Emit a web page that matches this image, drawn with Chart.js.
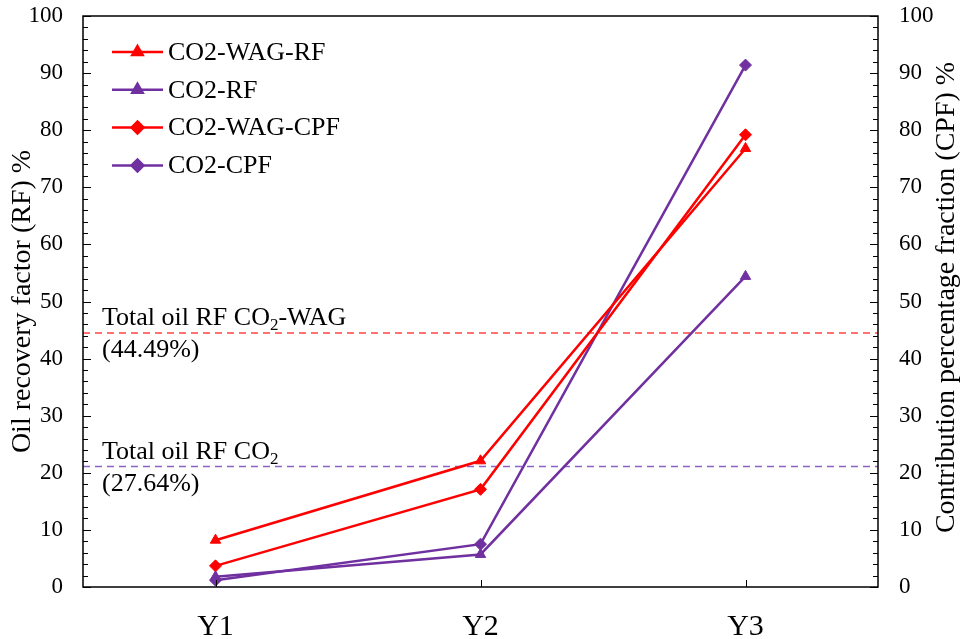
<!DOCTYPE html>
<html>
<head>
<meta charset="utf-8">
<script src="https://cdn.jsdelivr.net/npm/chart.js@4.4.1/dist/chart.umd.min.js"></script>
<style>
  html, body { margin: 0; padding: 0; background: #ffffff; }
  #wrap { width: 964px; height: 639px; }
  canvas { display: block; }
</style>
</head>
<body>
<div id="wrap"><canvas id="chart" width="964" height="639"></canvas></div>
<script>
// Categories and series values
const years = ['Y1', 'Y2', 'Y3'];
const co2WagRf = [8.2, 22.1, 76.8];
const co2Rf = [1.8, 5.7, 54.4];
const co2WagCpf = [3.7, 17.1, 79.2];
const co2Cpf = [1.2, 7.5, 91.4];

// Reference lines (total oil recovery) and their captions
const refValues = [44.49, 21.1];
const refCaptions = [
  ['Total oil RF CO', '2', '-WAG', '(44.49%)'],
  ['Total oil RF CO', '2', '', '(27.64%)']
];

const leftTitle = 'Oil recovery factor (RF) %';
const rightTitle = 'Contribution percentage fraction (CPF) %';

const SERIF = "'Liberation Serif', 'Times New Roman', serif";
const RED = '#ff0000';
const PURPLE = '#7030a0';
const refColors = ['#ff4545', '#8b62c6'];

const decor = {
  id: 'decor',
  beforeDatasetsDraw(chart) {
    const { ctx, chartArea: a } = chart;
    const y = chart.scales.y;
    ctx.save();
    ctx.lineWidth = 1.5;
    ctx.setLineDash([7, 5]);
    refValues.forEach((v, i) => {
      const py = y.getPixelForValue(v);
      ctx.strokeStyle = refColors[i];
      ctx.beginPath();
      ctx.moveTo(a.left, py);
      ctx.lineTo(a.right, py);
      ctx.stroke();
    });
    ctx.restore();
  },
  afterDraw(chart) {
    const { ctx, chartArea: a } = chart;
    const y = chart.scales.y;
    const x = chart.scales.x;
    ctx.save();

    // plot frame
    ctx.strokeStyle = '#000';
    ctx.lineWidth = 1.5;
    ctx.setLineDash([]);
    ctx.strokeRect(a.left, a.top, a.right - a.left, a.bottom - a.top);

    // inward major / minor ticks on both value axes
    ctx.lineWidth = 1;
    for (let v = 0; v <= 100; v += 2) {
      const py = Math.round(y.getPixelForValue(v)) + 0.5;
      const len = v % 10 === 0 ? 8 : 5;
      ctx.beginPath();
      ctx.moveTo(a.left, py); ctx.lineTo(a.left + len, py);
      ctx.moveTo(a.right, py); ctx.lineTo(a.right - len, py);
      ctx.stroke();
    }
    // category ticks on the bottom axis
    years.forEach((_, i) => {
      const px = Math.round(x.getPixelForValue(i)) + 0.5;
      ctx.beginPath();
      ctx.moveTo(px, a.bottom); ctx.lineTo(px, a.bottom - 7);
      ctx.stroke();
    });

    // captions of the reference lines
    ctx.fillStyle = '#000';
    ctx.textAlign = 'left';
    ctx.textBaseline = 'alphabetic';
    refValues.forEach((v, i) => {
      const py = y.getPixelForValue(v);
      const [main, sub, tail, pct] = refCaptions[i];
      let tx = a.left + 19;
      ctx.font = '26px ' + SERIF;
      ctx.fillText(main, tx, py - 8);
      tx += ctx.measureText(main).width;
      ctx.font = '17px ' + SERIF;
      ctx.fillText(sub, tx, py - 3);
      tx += ctx.measureText(sub).width;
      ctx.font = '26px ' + SERIF;
      ctx.fillText(tail, tx, py - 8);
      ctx.fillText(pct, a.left + 19, py + 24);
    });

    // legend inside the plot
    ctx.font = '26px ' + SERIF;
    ctx.textBaseline = 'middle';
    chart.data.datasets.forEach((ds, i) => {
      const ly = a.top + 36 + i * 37.8;
      const x0 = a.left + 29, x1 = a.left + 80;
      ctx.strokeStyle = ds.borderColor;
      ctx.lineWidth = 2.5;
      ctx.beginPath();
      ctx.moveTo(x0, ly); ctx.lineTo(x1, ly);
      ctx.stroke();
      Chart.helpers.drawPoint(ctx, {
        pointStyle: ds.pointStyle, radius: ds.pointRadius, rotation: 0, borderWidth: 1
      }, (x0 + x1) / 2, ly);
      ctx.fillStyle = ds.borderColor;
      ctx.fill();
      ctx.fillStyle = '#000';
      ctx.fillText(ds.label, x1 + 5, ly + 1);
    });

    // axis titles, both reading bottom to top
    ctx.textAlign = 'center';
    ctx.textBaseline = 'middle';
    const cy = (a.top + a.bottom) / 2;
    [[23, leftTitle, 28, cy], [947, rightTitle, 28, cy - 4]].forEach(([tx, t, fs, ty]) => {
      ctx.save();
      ctx.font = fs + 'px ' + SERIF;
      ctx.translate(tx, ty);
      ctx.rotate(-Math.PI / 2);
      ctx.fillText(t, 0, 0);
      ctx.restore();
    });
    ctx.restore();
  }
};

function series(label, data, color, style) {
  return {
    label, data,
    borderColor: color, backgroundColor: color,
    pointBackgroundColor: color, pointBorderColor: color,
    pointStyle: style, pointRadius: 6, pointHoverRadius: 6,
    borderWidth: 2.5, pointBorderWidth: 1, tension: 0
  };
}

const valueAxis = (position, width, pad) => ({
  position, min: 0, max: 100,
  grid: { display: false, drawTicks: false },
  border: { display: false },
  ticks: { stepSize: 10, color: '#000', padding: pad, font: { family: SERIF, size: 23 } },
  afterFit(s) { s.width = width; s.paddingTop = 0; s.paddingBottom = 0; }
});

new Chart(document.getElementById('chart'), {
  type: 'line',
  data: {
    labels: years,
    datasets: [
      series('CO2-WAG-RF', co2WagRf, RED, 'triangle'),
      series('CO2-RF', co2Rf, PURPLE, 'triangle'),
      series('CO2-WAG-CPF', co2WagCpf, RED, 'rectRot'),
      series('CO2-CPF', co2Cpf, PURPLE, 'rectRot')
    ]
  },
  options: {
    responsive: false,
    animation: false,
    devicePixelRatio: 1,
    layout: { padding: { top: 16, left: 0, right: 0, bottom: 0 } },
    plugins: { legend: { display: false }, tooltip: { enabled: false } },
    scales: {
      x: {
        offset: true,
        grid: { display: false, drawTicks: false },
        border: { display: false },
        ticks: { color: '#000', padding: 22, font: { family: SERIF, size: 30 } },
        afterFit(s) { s.height = 52; s.paddingLeft = 0; s.paddingRight = 0; }
      },
      y: valueAxis('left', 83, 20),
      y2: valueAxis('right', 86, 21)
    }
  },
  plugins: [decor]
});
</script>
</body>
</html>
